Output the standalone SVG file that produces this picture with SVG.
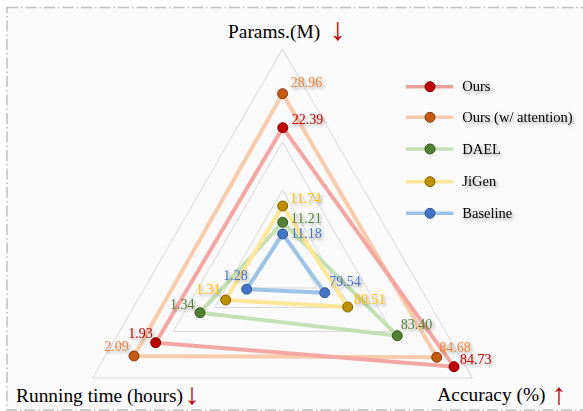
<svg xmlns="http://www.w3.org/2000/svg" width="583" height="411" viewBox="0 0 583 411">
  <defs>
    <filter id="shadow" x="-20%" y="-40%" width="150%" height="190%">
      <feDropShadow dx="1.8" dy="2" stdDeviation="1.4" flood-color="#000" flood-opacity="0.35"/>
    </filter>
  </defs>
  <style>
    text { font-family: "Liberation Serif", "Times New Roman", serif; }
    .grid { fill: none; stroke: #d9d9d9; stroke-width: 1; }
    .series { fill: none; stroke-width: 4; stroke-linejoin: miter; }
    .val { font-size: 14px; filter: url(#shadow); }
    .axis { font-size: 19.4px; fill: #000; }
    .arrow { font-size: 32px; fill: #c00000; }
    .arrow-low { font-size: 30px; fill: #c00000; }
    .leg { font-size: 14.5px; fill: #000; filter: url(#shadow); }
    .legline { stroke-width: 3.5; }
    .m-red { fill: #c00000; stroke: #7f0000; stroke-width: 1; }
    .m-orange { fill: #c55a11; stroke: #843c0c; stroke-width: 1; }
    .m-green { fill: #548235; stroke: #385723; stroke-width: 1; }
    .m-gold { fill: #bf9000; stroke: #7f6000; stroke-width: 1; }
    .m-blue { fill: #4472c4; stroke: #2f5597; stroke-width: 1; }
  </style>

  <!-- canvas and dash-dot frame -->
  <rect x="0" y="0" width="583" height="411" fill="#ffffff"/>
  <rect x="7" y="7.5" width="590" height="402.5" fill="#fafafa" stroke="#c0c0c0" stroke-width="1.5" stroke-dasharray="11 3 1.5 3"/>

  <!-- radar grid -->
  <g id="grid">
    <polygon class="grid" points="282.5,49 472.4,378 92.6,378"/>
    <polygon class="grid" points="282.5,142 391.9,331.5 173.1,331.5"/>
    <polygon class="grid" points="282.5,190 350.3,307.5 214.7,307.5"/>
    <polygon class="grid" points="282.5,229 316.6,288 248.4,288"/>
  </g>

  <!-- series outlines -->
  <g id="connectors">
    <polygon class="series" stroke="#f8cbad" points="282.6,93.7 436.7,357.3 134,356"/>
    <polygon class="series" stroke="#f4a7a2" points="282.8,127.7 454,366.7 155.7,342.7"/>
    <polygon class="series" stroke="#c5e0b4" points="282.7,222.3 397.3,335.7 200,312.7"/>
    <polygon class="series" stroke="#ffe699" points="282.7,206 347.7,307 225.7,300"/>
    <polygon class="series" stroke="#9dc3e6" points="282.7,234 324.8,292.7 246.7,289.2"/>
  </g>

  <!-- series markers and values -->
  <g id="ours-attention">
    <circle class="m-orange" cx="282.6" cy="93.7" r="5"/>
    <circle class="m-orange" cx="436.7" cy="357.3" r="5"/>
    <circle class="m-orange" cx="134" cy="356" r="5"/>
    <text class="val" fill="#f0833a" x="290.7" y="86.7">28.96</text>
    <text class="val" fill="#f0833a" x="439.3" y="351.7">84.68</text>
    <text class="val" fill="#f0833a" x="104.3" y="351">2.09</text>
  </g>
  <g id="ours">
    <circle class="m-red" cx="282.8" cy="127.7" r="5"/>
    <circle class="m-red" cx="454" cy="366.7" r="5"/>
    <circle class="m-red" cx="155.7" cy="342.7" r="5"/>
    <text class="val" fill="#c00000" x="291.7" y="124">22.39</text>
    <text class="val" fill="#c00000" x="460" y="364.3">84.73</text>
    <text class="val" fill="#c00000" x="128.3" y="337.7">1.93</text>
  </g>
  <g id="dael">
    <circle class="m-green" cx="282.7" cy="222.3" r="5"/>
    <circle class="m-green" cx="397.3" cy="335.7" r="5"/>
    <circle class="m-green" cx="200" cy="312.7" r="5"/>
    <text class="val" fill="#548235" x="290.7" y="223">11.21</text>
    <text class="val" fill="#548235" x="400.7" y="329.3">83.40</text>
    <text class="val" fill="#548235" x="170" y="309.3">1.34</text>
  </g>
  <g id="jigen">
    <circle class="m-gold" cx="282.7" cy="206" r="5"/>
    <circle class="m-gold" cx="347.7" cy="307" r="5"/>
    <circle class="m-gold" cx="225.7" cy="300" r="5"/>
    <text class="val" fill="#ffc000" x="290" y="203.3">11.74</text>
    <text class="val" fill="#ffc000" x="354" y="303.7">80.51</text>
    <text class="val" fill="#ffc000" x="196" y="294.3">1.31</text>
  </g>
  <g id="baseline">
    <circle class="m-blue" cx="282.7" cy="234" r="5"/>
    <circle class="m-blue" cx="324.8" cy="292.7" r="5"/>
    <circle class="m-blue" cx="246.7" cy="289.2" r="5"/>
    <text class="val" fill="#4472c4" x="290.7" y="238">11.18</text>
    <text class="val" fill="#4472c4" x="329.3" y="285.7">79.54</text>
    <text class="val" fill="#4472c4" x="223.3" y="280">1.28</text>
  </g>

  <!-- axis titles -->
  <g id="axis-params">
    <text class="axis" x="228" y="37.7">Params.(M)</text>
    <text class="arrow" x="330" y="40">↓</text>
  </g>
  <g id="axis-time">
    <text class="axis" x="16" y="401.7">Running time (hours)</text>
    <text class="arrow-low" x="184.5" y="404">↓</text>
  </g>
  <g id="axis-accuracy">
    <text class="axis" x="437.3" y="400.7">Accuracy (%)</text>
    <text class="arrow-low" x="551.5" y="403.5">↑</text>
  </g>

  <!-- legend -->
  <g id="legend">
    <line class="legline" x1="406" y1="86.7" x2="453.3" y2="86.7" stroke="#e8a19c"/>
    <circle class="m-red" cx="430" cy="86.7" r="5"/>
    <text class="leg" x="462.3" y="91.2">Ours</text>
    <line class="legline" x1="406" y1="117.3" x2="453.3" y2="117.3" stroke="#f8cbad"/>
    <circle class="m-orange" cx="430" cy="117.3" r="5"/>
    <text class="leg" x="462.3" y="121.8">Ours (w/ attention)</text>
    <line class="legline" x1="406" y1="149" x2="453.3" y2="149" stroke="#c5e0b4"/>
    <circle class="m-green" cx="430" cy="149" r="5"/>
    <text class="leg" x="462.3" y="153.5">DAEL</text>
    <line class="legline" x1="406" y1="181.7" x2="453.3" y2="181.7" stroke="#ffe699"/>
    <circle class="m-gold" cx="430" cy="181.7" r="5"/>
    <text class="leg" x="462.3" y="186.2">JiGen</text>
    <line class="legline" x1="406" y1="213.3" x2="453.3" y2="213.3" stroke="#9dc3e6"/>
    <circle class="m-blue" cx="430" cy="213.3" r="5"/>
    <text class="leg" x="462.3" y="217.8">Baseline</text>
  </g>
</svg>
